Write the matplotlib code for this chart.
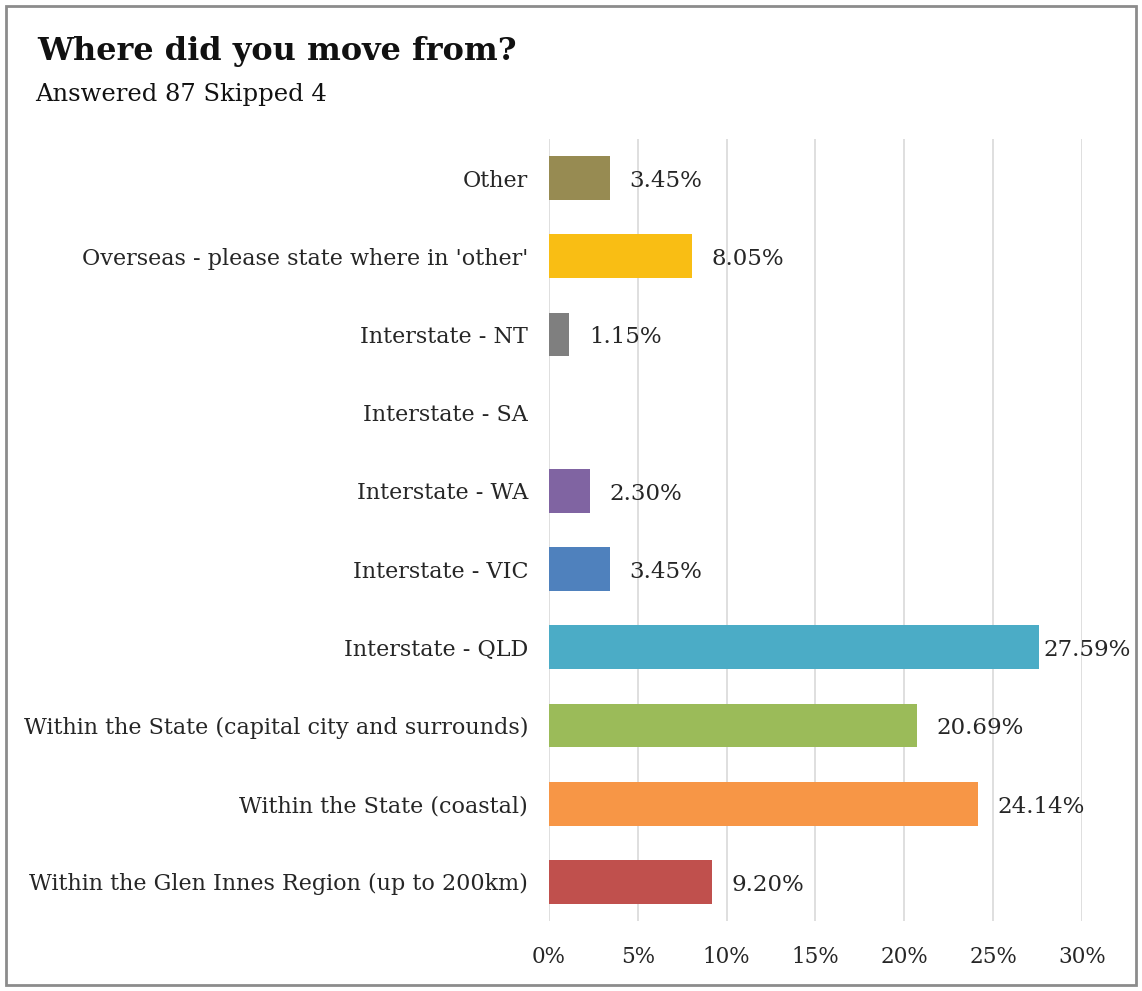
import matplotlib
matplotlib.use("Agg")
import matplotlib.pyplot as plt
from matplotlib.patches import Rectangle
from matplotlib.ticker import FuncFormatter

categories = [
    "Within the Glen Innes Region (up to 200km)",
    "Within the State (coastal)",
    "Within the State (capital city and surrounds)",
    "Interstate - QLD",
    "Interstate - VIC",
    "Interstate - WA",
    "Interstate - SA",
    "Interstate - NT",
    "Overseas - please state where in 'other'",
    "Other",
]
values = [9.20, 24.14, 20.69, 27.59, 3.45, 2.30, 0.0, 1.15, 8.05, 3.45]
value_labels = ["9.20%", "24.14%", "20.69%", "27.59%", "3.45%", "2.30%", "", "1.15%", "8.05%", "3.45%"]
colors = ["#C0504D", "#F79646", "#9BBB59", "#4BACC6", "#4F81BD",
          "#8064A2", "#A5A5A5", "#7F7F7F", "#F9BE14", "#978B52"]
xticks = [0, 5, 10, 15, 20, 25, 30]

serif = ["DejaVu Serif"]

fig = plt.figure(figsize=(11.42, 9.91), dpi=100)
fig.patch.set_facecolor("white")
fig.add_artist(Rectangle((0.005, 0.006), 0.99, 0.988, transform=fig.transFigure,
                         fill=False, edgecolor="#8c8c8c", linewidth=2))

ax = fig.add_axes([0.4807, 0.0706, 0.4667, 0.7891])
y = list(range(len(categories)))
ax.barh(y, values, height=0.56, color=colors, zorder=3)
for yi, v, lab in zip(y, values, value_labels):
    if lab:
        off = 3 if v > 27 else 14
        ax.annotate(lab, (v, yi), xytext=(off, -2), textcoords="offset points",
                    va="center", ha="left", fontsize=16.5, family=serif, color="#262626")

ax.set_xlim(0, 30)
ax.set_ylim(-0.5, len(categories) - 0.5)
ax.set_xticks(xticks)
ax.xaxis.set_major_formatter(FuncFormatter(lambda v, p: f"{int(v)}%"))
ax.set_yticks(y)
ax.set_yticklabels(categories)
ax.grid(axis="x", color="#d9d9d9", linewidth=1.2, zorder=0)
for s in ax.spines.values():
    s.set_visible(False)
ax.tick_params(axis="y", length=0, labelsize=16, colors="#262626", pad=15)
ax.tick_params(axis="x", length=0, labelsize=15.5, colors="#262626", pad=18)
for t in ax.get_xticklabels() + ax.get_yticklabels():
    t.set_family(serif)

fig.text(0.033, 0.948, "Where did you move from?", fontsize=23, fontweight="bold",
         family=serif, ha="left", va="center", color="#111111")
fig.text(0.031, 0.905, "Answered 87 Skipped 4", fontsize=17.5, family=serif,
         ha="left", va="center", color="#111111")

fig.savefig("out.png", dpi=100)
